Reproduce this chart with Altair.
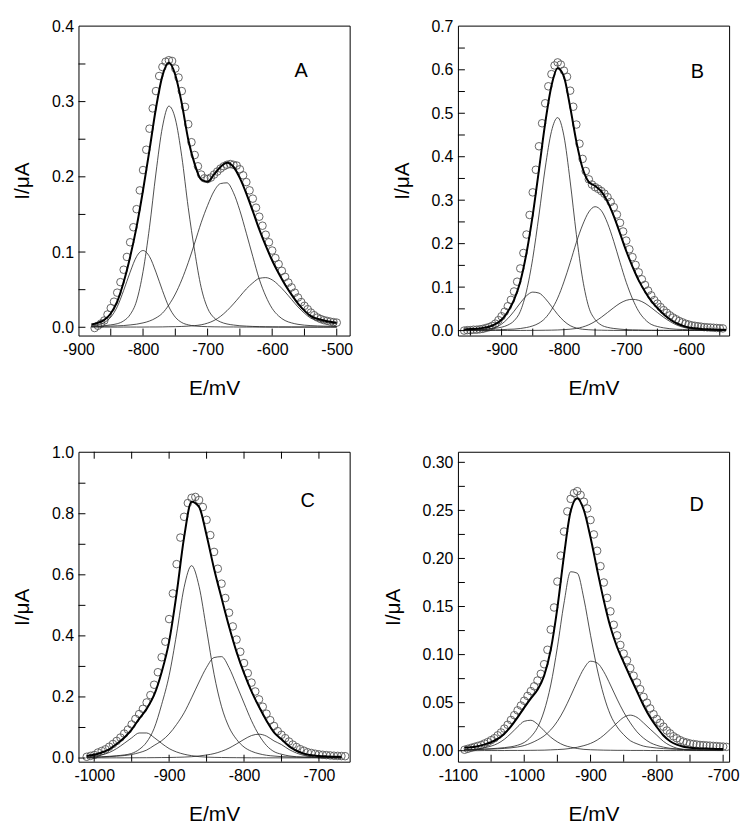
import altair as alt
import pandas as pd

FONT = "Liberation Sans"

# ---------------- Panel A ----------------
A_line_E = [-880, -870, -860, -850, -840, -830, -820, -810, -800, -790, -780, -770, -760,
            -750, -740, -730, -720, -710, -700, -690, -680, -670, -660, -650, -640, -630,
            -620, -610, -600, -590, -580, -570, -560, -550, -540, -530, -520, -510, -500]
A_fit = [.0037, .0059, .0098, .0183, .034, .0601, .0935, .1334, .1821, .2357, .2911, .3342, .3516,
         .3354, .2975, .2497, .2169, .1964, .1936, .2032, .2131, .2188, .2134, .1983, .1778, .1544,
         .1301, .1084, .0888, .0717, .0566, .0434, .0315, .0221, .0147, .0113, .009, .0073, .0061]
A_c1 = [.0017, .0032, .0063, .0134, .0272, .049, .0733, .094, .102, .094, .0733, .049, .0272,
        .0134, .0063, .0032, .0017, .0011, .0008, .0006, .0005, .0004, .0004, .0003, .0003, .0003,
        .0002, .0002, .0002, .0002, .0002, .0002, .0002, .0002, .0002, .0002, .0002, .0002, .0002]
A_c2 = [.001, .0015, .002, .0032, .0047, .0085, .0168, .035, .074, .133, .205, .266, .294,
        .277, .227, .159, .101, .053, .0253, .0126, .0071, .0044, .003, .002, .0015, .0011,
        .0009, .0007, .0006, .0005, .0005, .0004, .0004, .0004, .0003, .0003, .0003, .0003, .0003]
A_c3 = [.0008, .001, .0013, .0015, .0019, .0023, .0031, .0041, .0058, .0083, .0124, .0187, .0297,
        .0442, .0631, .086, .112, .139, .162, .181, .191, .192, .179, .155, .125, .094,
        .064, .0415, .025, .015, .0089, .0058, .0039, .0028, .0022, .0018, .0015, .0013, .0011]
A_c4 = [.0002, .0002, .0002, .0002, .0002, .0003, .0003, .0003, .0003, .0004, .0004, .0005, .0007,
        .0008, .0011, .0015, .0022, .0033, .0055, .009, .0145, .022, .031, .041, .051, .059,
        .065, .066, .063, .056, .047, .037, .027, .0187, .012, .009, .007, .0055, .0045]
A_pts_E = [-875, -870, -865, -860, -855, -850, -845, -840, -835, -830, -825, -820, -815, -810,
           -805, -800, -795, -790, -785, -780, -775, -770, -765, -760, -755, -750, -745, -740,
           -735, -730, -725, -720, -715, -710, -705, -700, -695, -690, -685, -680, -675, -670,
           -665, -660, -655, -650, -645, -640, -635, -630, -625, -620, -615, -610, -605, -600,
           -595, -590, -585, -580, -575, -570, -565, -560, -555, -550, -545, -540, -535, -530,
           -525, -520, -515, -510, -505, -500]
A_pts_I = [-.001, .002, .005, .009, .017, .0255, .034, .046, .060, .0765, .0935, .113, .133, .157,
           .182, .209, .236, .264, .291, .314, .334, .346, .353, .355, .354, .344, .332, .314,
           .293, .270, .246, .229, .214, .203, .198, .197, .199, .203, .207, .211, .214, .216,
           .217, .216, .215, .210, .202, .193, .182, .171, .159, .147, .135, .123, .113, .102,
           .092, .084, .075, .067, .0595, .053, .046, .0395, .0335, .0285, .024, .0195, .016, .013,
           .011, .0095, .0085, .0075, .0068, .0062]

# ---------------- Panel B ----------------
B_line_E = [-960, -950, -940, -930, -920, -910, -900, -890, -880, -870, -860, -850, -840, -830,
            -820, -810, -800, -790, -780, -770, -760, -750, -740, -730, -720, -710, -700, -690,
            -680, -670, -660, -650, -640, -630, -620, -610, -600, -590, -580, -570, -560, -550, -540]
B_fit = [.0028, .0034, .0044, .0062, .009, .0148, .025, .0434, .0707, .1125, .1785, .2658, .370, .4772,
         .5625, .6033, .5841, .5146, .4348, .3733, .3417, .3328, .3202, .2966, .2631, .2236, .1831, .1473,
         .1155, .0898, .0682, .052, .0378, .0262, .0172, .0115, .0074, .0053, .0038, .0029, .0024, .0021, .0018]
B_c1 = [.0007, .001, .0014, .0023, .0039, .0075, .0149, .0276, .0445, .0634, .0801, .0885, .0863, .0739,
        .0559, .0372, .022, .0114, .0059, .0031, .0019, .0012, .0009, .0006, .0004, .0004, .0003, .0003,
        .0003, .0002, .0002, .0002, .0002, .0002, .0002, .0002, .0002, .0002, .0002, .0002, .0002, .0002, .0002]
B_c2 = [.0013, .0015, .0019, .0027, .0036, .0054, .0078, .0127, .0225, .044, .091, .166, .266, .374,
        .458, .49, .448, .344, .221, .119, .0534, .0255, .0127, .0074, .0049, .0033, .0022, .0017,
        .0014, .001, .0009, .0008, .0007, .0006, .0005, .0005, .0004, .0004, .0004, .0003, .0003, .0003, .0003]
B_c3 = [.0007, .0008, .001, .0011, .0013, .0017, .0021, .0029, .0034, .0048, .0071, .0108, .0171, .0285,
        .0476, .0747, .112, .156, .203, .243, .273, .285, .276, .247, .205, .157, .111, .0733,
        .0442, .0257, .0143, .0094, .0063, .0043, .0031, .0026, .0019, .0015, .0011, .001, .0009, .0008, .0007]
B_c4 = [.0001, .0001, .0001, .0001, .0002, .0002, .0002, .0002, .0003, .0003, .0004, .0005, .0006, .0008,
        .001, .0014, .0021, .0032, .0049, .0082, .0134, .0211, .0306, .0416, .0528, .0629, .0696, .072,
        .0696, .0629, .0528, .0416, .0306, .0211, .0134, .0082, .0049, .0032, .0021, .0014, .001, .0008, .0006]
B_pts_E = [-960, -955, -950, -945, -940, -935, -930, -925, -920, -915, -910, -905, -900, -895,
           -890, -885, -880, -875, -870, -865, -860, -855, -850, -845, -840, -835, -830, -825,
           -820, -815, -810, -805, -800, -795, -790, -785, -780, -775, -770, -765, -760, -755,
           -750, -745, -740, -735, -730, -725, -720, -715, -710, -705, -700, -695, -690, -685,
           -680, -675, -670, -665, -660, -655, -650, -645, -640, -635, -630, -625, -620, -615,
           -610, -605, -600, -595, -590, -585, -580, -575, -570, -565, -560, -555, -550, -545]
B_pts_I = [.000, .001, .001, .002, .002, .003, .004, .006, .008, .011, .016, .024, .033, .0434,
           .056, .0707, .090, .1125, .143, .1785, .221, .266, .318, .370, .424, .477, .523, .562,
           .590, .610, .617, .612, .598, .584, .552, .515, .474, .430, .395, .367, .348, .336,
           .330, .326, .321, .315, .307, .296, .284, .267, .248, .228, .207, .187, .169, .151,
           .134, .118, .105, .092, .081, .070, .062, .054, .047, .041, .035, .030, .026, .022,
           .019, .016, .014, .012, .011, .010, .009, .008, .0075, .007, .0065, .006, .0055, .005]

# ---------------- Panel C ----------------
C_line_E = [-1010, -1000, -990, -980, -970, -960, -950, -940, -930, -920, -910, -900, -890, -880,
            -870, -860, -850, -840, -830, -820, -810, -800, -790, -780, -770, -760, -750, -740,
            -730, -720, -710, -700, -690, -680, -670]
C_fit = [.0069, .0108, .0179, .0285, .0460, .0666, .0932, .1284, .161, .2064, .2811, .3813, .5386, .7224,
         .839, .8222, .7298, .620, .5237, .4305, .3475, .2779, .2183, .1677, .1223, .0841, .0614, .039,
         .0238, .0144, .0089, .0066, .0053, .0044, .0038]
C_c1 = [.0025, .005, .010, .018, .031, .048, .066, .082, .082, .067, .048, .0309, .0198, .0124,
        .0077, .0045, .0029, .0021, .0017, .0013, .0011, .0009, .0007, .0007, .0006, .0006, .0005, .0005,
        .0004, .0004, .0004, .0003, .0003, .0003, .0003]
C_c2 = [.002, .0028, .004, .0055, .0075, .010, .015, .028, .052, .097, .175, .270, .4065, .559,
        .630, .562, .420, .2744, .168, .1008, .0611, .036, .022, .014, .009, .0065, .0045, .0035,
        .003, .0025, .002, .0018, .0016, .0014, .0012]
C_c3 = [.002, .0026, .0034, .0045, .006, .008, .0115, .0175, .026, .0412, .0566, .0787, .110, .148,
        .197, .249, .297, .329, .332, .296, .239, .180, .122, .075, .041, .021, .0124, .007,
        .004, .003, .0025, .002, .0018, .0015, .0013]
C_c4 = [.0004, .0004, .0005, .0005, .0006, .0006, .0007, .0009, .001, .0012, .0015, .0017, .0023, .003,
        .0043, .0067, .0099, .0145, .022, .0324, .0463, .061, .0736, .078, .0717, .056, .044, .028,
        .0164, .0085, .004, .0025, .0016, .0012, .001]
C_pts_E = [-1010, -1005, -1000, -995, -990, -985, -980, -975, -970, -965, -960, -955, -950, -945,
           -940, -935, -930, -925, -920, -915, -910, -905, -900, -895, -890, -885, -880, -875,
           -870, -865, -860, -855, -850, -845, -840, -835, -830, -825, -820, -815, -810, -805,
           -800, -795, -790, -785, -780, -775, -770, -765, -760, -755, -750, -745, -740, -735,
           -730, -725, -720, -715, -710, -705, -700, -695, -690, -685, -680, -675, -670, -665]
C_pts_I = [.004, .007, .010, .018, .023, .0285, .037, .046, .056, .067, .080, .093, .110, .128,
           .144, .161, .182, .206, .240, .281, .330, .381, .455, .539, .635, .722, .790, .835,
           .852, .855, .845, .822, .780, .730, .675, .620, .571, .524, .476, .431, .388, .348,
           .311, .278, .247, .218, .192, .168, .145, .124, .105, .088, .076, .065, .054, .044,
           .036, .029, .024, .019, .0165, .014, .012, .0105, .0095, .0085, .0075, .007, .0065, .006]

# ---------------- Panel D ----------------
D_line_E = [-1090, -1080, -1070, -1060, -1050, -1040, -1030, -1020, -1010, -1000, -990, -980, -970,
            -960, -950, -940, -930, -920, -910, -900, -890, -880, -870, -860, -850, -840, -830,
            -820, -810, -800, -790, -780, -770, -760, -750, -740, -730, -720, -710, -700]
D_fit = [.003, .0036, .0046, .0065, .0088, .0123, .0177, .0254, .0347, .0449, .0545, .0634, .078,
         .1051, .1487, .2033, .2491, .2626, .2502, .2218, .1883, .1563, .1286, .1079, .092, .0767, .0619,
         .0471, .0346, .0247, .0158, .0099, .0063, .0042, .0031, .0026, .0023, .0021, .0018, .0017]
D_c1 = [.0009, .0012, .0019, .0031, .0048, .0075, .0119, .018, .0248, .0306, .0317, .0276, .0207,
        .0141, .0092, .0057, .0037, .0023, .0014, .001, .0008, .0006, .0005, .0004, .0004, .0003, .0003,
        .0003, .0002, .0002, .0002, .0002, .0002, .0002, .0002, .0002, .0002, .0002, .0002, .0002]
D_c2 = [.0011, .0012, .0014, .0017, .0021, .0026, .0032, .0041, .0057, .0086, .0145, .0241, .0413,
        .0684, .1077, .1536, .1862, .1847, .158, .1201, .0851, .0574, .0373, .0249, .0167, .0104, .0072,
        .0048, .0036, .0028, .0022, .0018, .0015, .0013, .0011, .001, .0009, .0008, .0007, .0007]
D_c3 = [.0009, .0011, .0012, .0015, .0017, .002, .0024, .003, .0039, .0054, .0079, .0112, .0154,
        .0217, .0306, .0424, .0568, .072, .0855, .0931, .0913, .0822, .0684, .0537, .0402, .029, .0197,
        .0131, .0084, .0056, .0037, .0025, .0019, .0015, .0012, .001, .0009, .0008, .0007, .0006]
D_c4 = [.0001, .0001, .0001, .0002, .0002, .0002, .0002, .0003, .0003, .0003, .0004, .0005, .0006,
        .0009, .0012, .0016, .0024, .0036, .0053, .0076, .0111, .0161, .0224, .0289, .0347, .037, .0347,
        .0289, .0224, .0161, .0097, .0054, .0027, .0012, .0006, .0004, .0003, .0003, .0002, .0002]
D_pts_E = [-1090, -1085, -1080, -1075, -1070, -1065, -1060, -1055, -1050, -1045, -1040, -1035, -1030,
           -1025, -1020, -1015, -1010, -1005, -1000, -995, -990, -985, -980, -975, -970, -965, -960,
           -955, -950, -945, -940, -935, -930, -925, -920, -915, -910, -905, -900, -895, -890, -885,
           -880, -875, -870, -865, -860, -855, -850, -845, -840, -835, -830, -825, -820, -815, -810,
           -805, -800, -795, -790, -785, -780, -775, -770, -765, -760, -755, -750, -745, -740, -735,
           -730, -725, -720, -715, -710, -705, -700, -695]
D_pts_I = [.001, .002, .003, .004, .005, .006, .0075, .009, .011, .013, .016, .019, .023,
           .027, .032, .037, .042, .047, .052, .057, .062, .067, .073, .080, .090, .105, .126,
           .149, .176, .203, .228, .249, .262, .268, .270, .266, .259, .252, .240, .225, .208, .192,
           .175, .159, .145, .131, .120, .110, .101, .094, .086, .078, .071, .064, .056, .050, .044,
           .038, .033, .029, .025, .021, .018, .015, .013, .011, .0095, .0085, .0075, .007, .0065, .006,
           .0058, .0055, .0053, .005, .0048, .0045, .0043, .004]

# ---------------- axes: labels and tick positions ----------------
A_xlabels = [-900, -800, -700, -600, -500]
A_ylabels = [0.0, 0.1, 0.2, 0.3, 0.4]
A_xticks = [-850, -800, -750, -700, -650, -600, -550, -500]
A_yticks = [0.0, 0.05, 0.1, 0.15, 0.2, 0.25, 0.3, 0.35]

B_xlabels = [-900, -800, -700, -600]
B_ylabels = [0.0, 0.1, 0.2, 0.3, 0.4, 0.5, 0.6, 0.7]
B_xticks = [-950, -900, -850, -800, -750, -700, -650, -600, -550]
B_yticks = [0.0, 0.05, 0.1, 0.15, 0.2, 0.25, 0.3, 0.35, 0.4, 0.45, 0.5, 0.55, 0.6, 0.65]

C_xlabels = [-1000, -900, -800, -700]
C_ylabels = [0.0, 0.2, 0.4, 0.6, 0.8, 1.0]
C_xticks = [-1000, -950, -900, -850, -800, -750, -700]
C_yticks = [0.0, 0.1, 0.2, 0.3, 0.4, 0.5, 0.6, 0.7, 0.8, 0.9]

D_xlabels = [-1100, -1000, -900, -800, -700]
D_ylabels = [0.0, 0.05, 0.10, 0.15, 0.20, 0.25, 0.30]
D_xticks = [-1050, -1000, -950, -900, -850, -800, -750, -700]
D_yticks = [0.0, 0.025, 0.05, 0.075, 0.1, 0.125, 0.15, 0.175, 0.2, 0.225, 0.25, 0.275, 0.3]

W, H = 273, 312
TICK = 7


def panel(letter, line_E, fit, comps, pts_E, pts_I, xdom, ydom, xlabels, ylabels,
          xticks, yticks, yfmt, lab_pos, top_ticks=False):
    xs = alt.Scale(domain=xdom, nice=False, zero=False)
    ys = alt.Scale(domain=ydom, nice=False, zero=False)
    xax = alt.Axis(values=xlabels, format="d", title="E/mV", labelFlush=False,
                   labelExpr="replace(datum.label, '\u2212', '-')",
                   labelOverlap=False, labelPadding=6, titlePadding=20,
                   grid=False, domain=False, ticks=False)
    yax = alt.Axis(values=ylabels, format=yfmt, title="I/μA", labelFlush=False,
                   labelOverlap=False, labelPadding=5, titlePadding=19,
                   grid=False, domain=False, ticks=False)

    def X(f):
        return alt.X(f, scale=xs, axis=xax)

    def Y(f):
        return alt.Y(f, scale=ys, axis=yax)

    pts = pd.DataFrame({"E": pts_E, "I": pts_I})
    circles = alt.Chart(pts).mark_point(
        shape="circle", filled=False, size=58, color="#555555", strokeWidth=0.9,
        opacity=1, clip=True
    ).encode(x=X("E:Q"), y=Y("I:Q"))

    rows = []
    for k, comp in enumerate(comps):
        for e, v in zip(line_E, comp):
            rows.append({"E": e, "I": v, "k": "c%d" % k})
    comp_df = pd.DataFrame(rows)
    comp_lines = alt.Chart(comp_df).mark_line(
        color="#222222", strokeWidth=0.8, interpolate="monotone", clip=True
    ).encode(x=X("E:Q"), y=Y("I:Q"), detail="k:N")

    fit_df = pd.DataFrame({"E": line_E, "I": fit})
    fit_line = alt.Chart(fit_df).mark_line(
        color="black", strokeWidth=2.0, interpolate="monotone", clip=True
    ).encode(x=X("E:Q"), y=Y("I:Q"))

    xt = pd.DataFrame({"v": xticks})
    yt = pd.DataFrame({"v": yticks})
    xtick = alt.Chart(xt).mark_rule(color="black", strokeWidth=1).encode(
        x=X("v:Q"), y=alt.value(H), y2=alt.value(H - TICK))
    ytick = alt.Chart(yt).mark_rule(color="black", strokeWidth=1).encode(
        y=Y("v:Q"), x=alt.value(0), x2=alt.value(TICK))

    lab = pd.DataFrame({"E": [lab_pos[0]], "I": [lab_pos[1]], "t": [letter]})
    label = alt.Chart(lab).mark_text(
        font=FONT, fontSize=20, color="black", align="center", baseline="middle"
    ).encode(x=X("E:Q"), y=Y("I:Q"), text="t:N")

    layers = [circles, comp_lines, fit_line, xtick, ytick, label]
    if top_ticks:
        ttick = alt.Chart(xt).mark_rule(color="black", strokeWidth=1).encode(
            x=X("v:Q"), y=alt.value(0), y2=alt.value(TICK))
        layers.append(ttick)
    return alt.layer(*layers).properties(width=W, height=H)


pA = panel("A", A_line_E, A_fit, [A_c1, A_c2, A_c3, A_c4], A_pts_E, A_pts_I,
           [-900, -480], [-0.011, 0.401], A_xlabels, A_ylabels, A_xticks, A_yticks,
           ".1f", (-555, 0.341))
pB = panel("B", B_line_E, B_fit, [B_c1, B_c2, B_c3, B_c4], B_pts_E, B_pts_I,
           [-970, -535], [-0.0114, 0.7016], B_xlabels, B_ylabels, B_xticks, B_yticks,
           ".1f", (-586, 0.594))
pC = panel("C", C_line_E, C_fit, [C_c1, C_c2, C_c3, C_c4], C_pts_E, C_pts_I,
           [-1021, -659], [-0.012, 1.003], C_xlabels, C_ylabels, C_xticks, C_yticks,
           ".1f", (-715, 0.843), top_ticks=True)
pD = panel("D", D_line_E, D_fit, [D_c1, D_c2, D_c3, D_c4], D_pts_E, D_pts_I,
           [-1100, -691], [-0.0114, 0.311], D_xlabels, D_ylabels, D_xticks, D_yticks,
           ".2f", (-740, 0.256))

chart = alt.concat(
    pA, pB, pC, pD, columns=2, spacing={"row": 117, "column": 109}, bounds="flush"
).properties(
    padding={"left": 11, "top": 15, "right": 5, "bottom": 5},
    background="white",
).configure_view(
    stroke="black", strokeWidth=1
).configure_axis(
    labelFont=FONT, labelFontSize=16, labelColor="black",
    titleFont=FONT, titleFontSize=21, titleFontWeight="normal", titleColor="black",
)

chart.save("out.html", embed_options={"renderer": "svg", "actions": False})
